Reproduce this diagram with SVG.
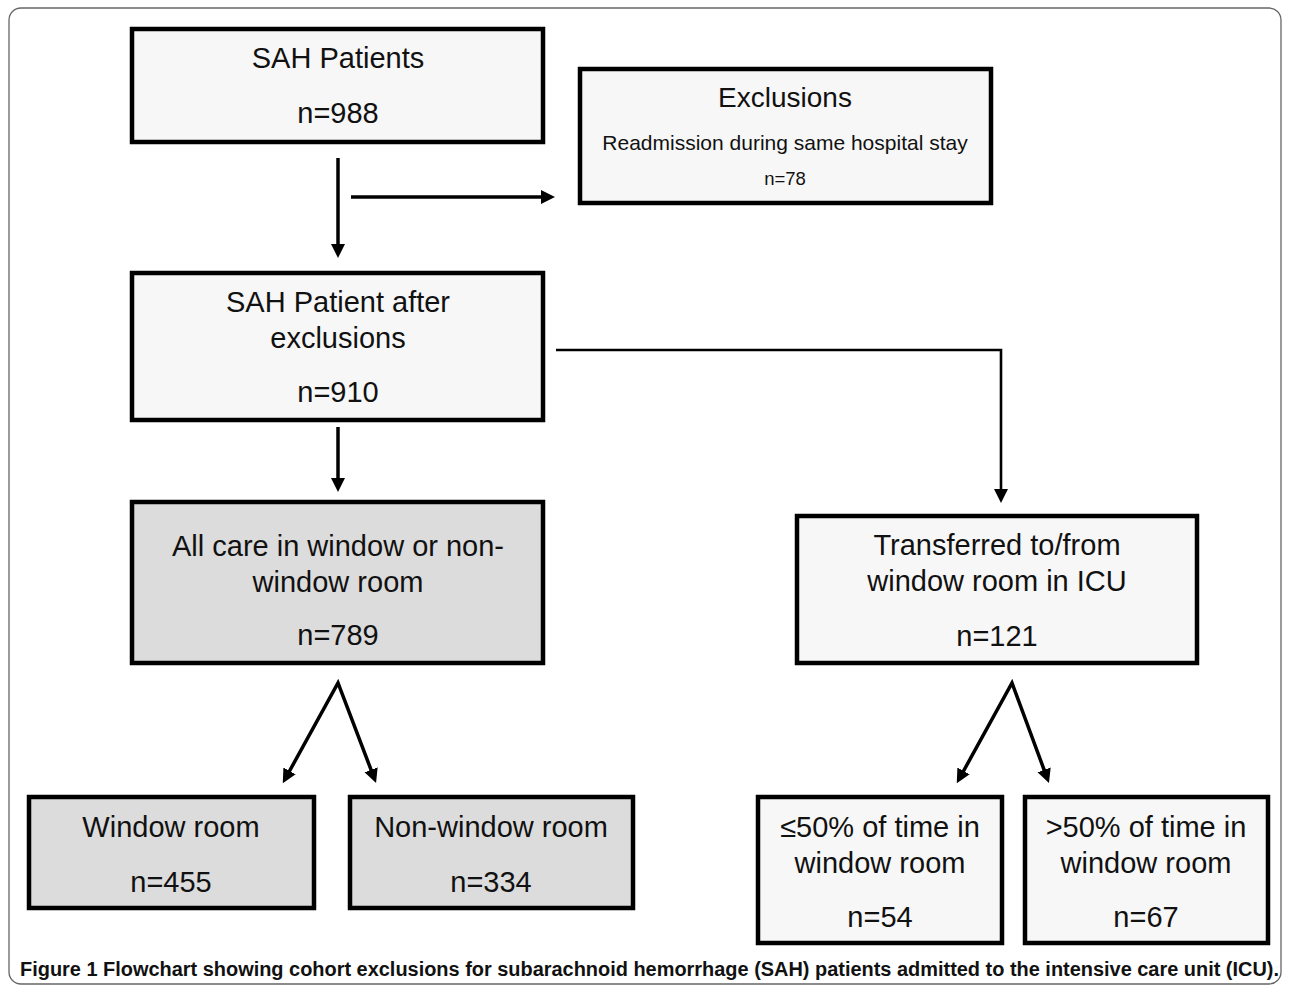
<svg xmlns="http://www.w3.org/2000/svg" width="1290" height="991" viewBox="0 0 1290 991">
<style>
.bg{fill:#ffffff}
.frame{fill:none;stroke:#666;stroke-width:1.3}
.box{fill:#f7f7f7;stroke:#000;stroke-width:4.5}
.gbox{fill:#dcdcdc;stroke:#000;stroke-width:4.5}
.t{font-family:"Liberation Sans",Arial,sans-serif;font-size:29px;fill:#111;text-anchor:middle;dominant-baseline:central}
.ts{font-family:"Liberation Sans",Arial,sans-serif;font-size:21px;fill:#111;text-anchor:middle;dominant-baseline:central}
.tn{font-family:"Liberation Sans",Arial,sans-serif;font-size:18.5px;fill:#111;text-anchor:middle;dominant-baseline:central}
.ln{fill:none;stroke:#000;stroke-width:3.5}
.ln2{fill:none;stroke:#000;stroke-width:2.6}
.cap{font-family:"Liberation Sans Narrow","Liberation Sans",Arial,sans-serif;font-size:20px;font-weight:bold;fill:#111}
</style>
<defs>
<marker id="ah" markerUnits="userSpaceOnUse" markerWidth="16" markerHeight="16" refX="4" refY="7" orient="auto-start-reverse" viewBox="0 0 16 14">
<path d="M0,0 L14,7 L0,14 z" fill="#000"/>
</marker>
</defs>
<rect class="bg" x="0" y="0" width="1290" height="991"/>
<rect class="frame" x="9" y="8" width="1272" height="976" rx="12" ry="12"/>

<g id="connectors">
<line class="ln" x1="338" y1="158" x2="338" y2="248" marker-end="url(#ah)"/>
<line class="ln" x1="351" y1="197" x2="545" y2="197" marker-end="url(#ah)"/>
<path class="ln2" d="M556,350 L1001,350 L1001,493" marker-end="url(#ah)"/>
<line class="ln" x1="338" y1="427" x2="338" y2="482" marker-end="url(#ah)"/>
<path class="ln" d="M287.6,774.5 L338,683 L372.5,773.6" stroke-linejoin="miter" marker-start="url(#ah)" marker-end="url(#ah)"/>
<path class="ln" d="M961.6,774.5 L1012,683 L1045.5,773.6" stroke-linejoin="miter" marker-start="url(#ah)" marker-end="url(#ah)"/>
</g>

<g id="n-sah">
<rect class="box" x="132" y="29" width="411" height="113"/>
<text class="t" x="338" y="58">SAH Patients</text>
<text class="t" x="338" y="113">n=988</text>
</g>

<g id="n-excl">
<rect class="box" x="580" y="69" width="411" height="134"/>
<text class="t" x="785" y="97" style="font-size:28px">Exclusions</text>
<text class="ts" x="785" y="142">Readmission during same hospital stay</text>
<text class="tn" x="785" y="178">n=78</text>
</g>

<g id="n-after">
<rect class="box" x="132" y="273" width="411" height="147"/>
<text class="t" x="338" y="302">SAH Patient after</text>
<text class="t" x="338" y="338">exclusions</text>
<text class="t" x="338" y="392">n=910</text>
</g>

<g id="n-allcare">
<rect class="gbox" x="132" y="502" width="411" height="161"/>
<text class="t" x="338" y="546">All care in window or non-</text>
<text class="t" x="338" y="582">window room</text>
<text class="t" x="338" y="635">n=789</text>
</g>

<g id="n-transfer">
<rect class="box" x="797" y="516" width="400" height="147"/>
<text class="t" x="997" y="545">Transferred to/from</text>
<text class="t" x="997" y="581">window room in ICU</text>
<text class="t" x="997" y="636">n=121</text>
</g>

<g id="n-window">
<rect class="gbox" x="29" y="797" width="285" height="111"/>
<text class="t" x="171" y="827">Window room</text>
<text class="t" x="171" y="882">n=455</text>
</g>

<g id="n-nonwindow">
<rect class="gbox" x="350" y="797" width="283" height="111"/>
<text class="t" x="491" y="827">Non-window room</text>
<text class="t" x="491" y="882">n=334</text>
</g>

<g id="n-le50">
<rect class="box" x="758" y="797" width="244" height="146"/>
<text class="t" x="880" y="827">≤50% of time in</text>
<text class="t" x="880" y="863">window room</text>
<text class="t" x="880" y="917">n=54</text>
</g>

<g id="n-gt50">
<rect class="box" x="1025" y="797" width="243" height="146"/>
<text class="t" x="1146" y="827">&gt;50% of time in</text>
<text class="t" x="1146" y="863">window room</text>
<text class="t" x="1146" y="917">n=67</text>
</g>

<text class="cap" x="20" y="976" textLength="1259" lengthAdjust="spacingAndGlyphs">Figure 1 Flowchart showing cohort exclusions for subarachnoid hemorrhage (SAH) patients admitted to the intensive care unit (ICU).</text>
</svg>
